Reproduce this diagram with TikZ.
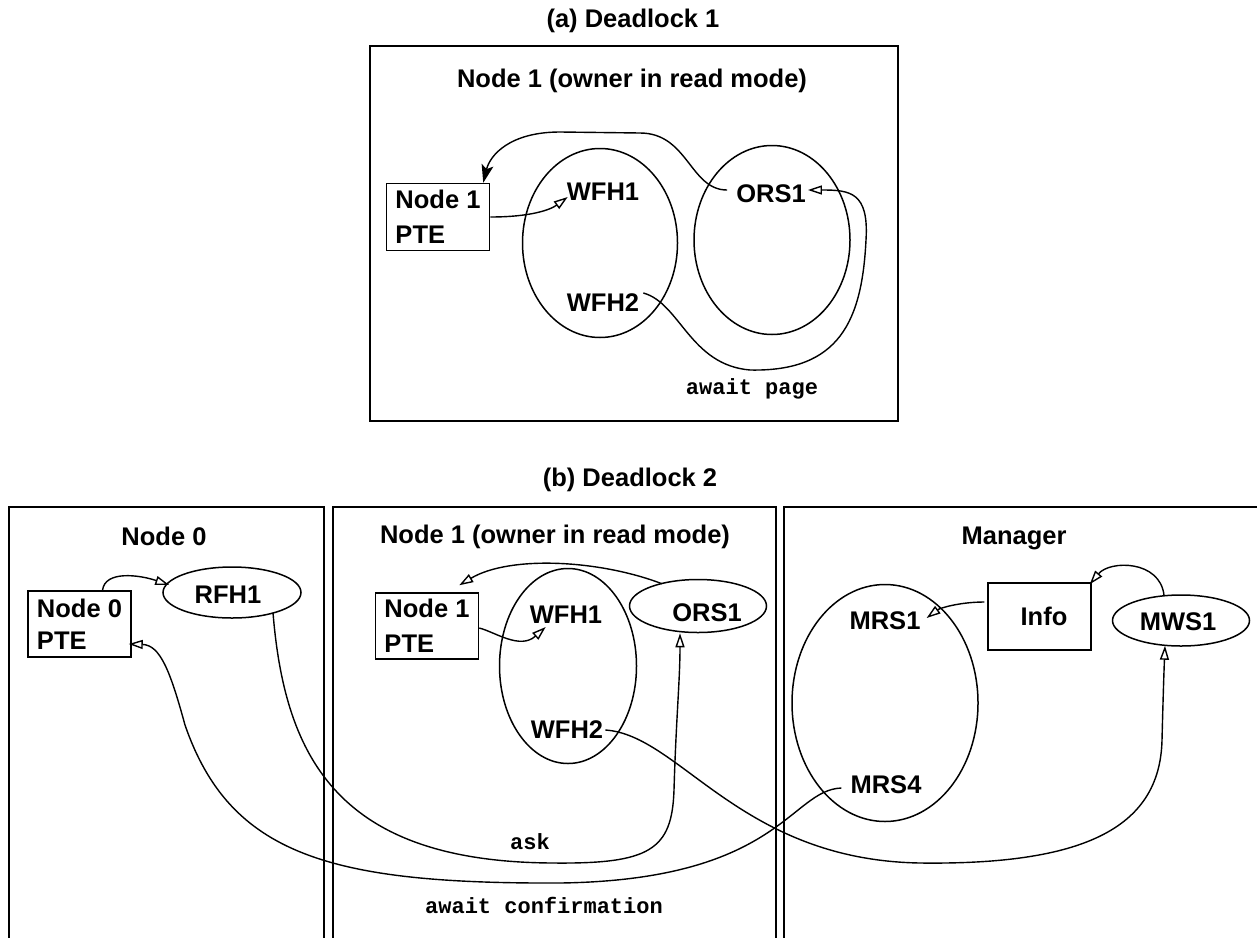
\documentclass[tikz,border=0pt]{standalone}
\usepackage{fontspec}
\newfontfamily\hvfont{Liberation Sans}
\newfontfamily\crfont{Liberation Mono}
\usetikzlibrary{arrows.meta,calc,shapes.geometric}
\tikzset{
  lbl/.style={font=\hvfont\bfseries\fontsize{25.5}{30}\selectfont, inner sep=0pt, anchor=base},
  mono/.style={font=\crfont\bfseries\fontsize{22}{26}\selectfont, inner sep=0pt, anchor=base},
  frame/.style={draw, line width=1.7pt},
  ptebox/.style={draw, line width=1.5pt, minimum width=103pt, minimum height=67pt, inner sep=0pt, align=left, font=\hvfont\bfseries\fontsize{25.5}{35}\selectfont},
  oval/.style={draw, ellipse, line width=1.5pt, inner sep=0pt},
  conn/.style={line width=1.4pt},
  oarr/.style={conn, -{Triangle[open, length=14pt, width=9pt]}},
  farr/.style={conn, -{Stealth[length=18pt, width=12pt, inset=4pt]}}
}
\begin{document}
\begin{tikzpicture}[x=1pt, y=-1pt]
\useasboundingbox (0,0) rectangle (1257,937);
\clip (0,0) rectangle (1257,937);

% ---------------- (a) Deadlock 1 ----------------
\node[lbl] (ta) at (633,27) {(a) Deadlock 1};
\draw[frame, line width=2pt] (370,46) rectangle (898,421);
\node[lbl] (tA) at (632,87) {Node 1 (owner in read mode)};
\node[ptebox] (pteA) at (438,217) {Node 1\\PTE};
\node[oval, minimum width=155pt, minimum height=189pt] (wfhA) at (600,243) {};
\node[lbl] (wfhoneA) at (603,200) {WFH1};
\node[lbl] (wfhtwoA) at (603,311) {WFH2};
\node[oval, minimum width=156pt, minimum height=189pt] (orsA) at (772,240) {};
\node[lbl] (orsoneA) at (771,202) {ORS1};
\node[mono] (awpage) at (752,394) {await page};

\draw[oarr] (pteA.east) .. controls (530,217) and (550,210) .. ($(wfhoneA.base west)+(1,-3)$);
\draw[farr] ($(orsoneA.base west)+(-9,-12)$) .. controls (690,190) and (688,133) .. (640,133) -- (560,132) .. controls (510,132) and (490,155) .. ($(pteA.north east)+(-7,0)$);
\draw[oarr] ($(wfhtwoA.base east)+(4,-18)$) .. controls (680,303) and (690,365) .. (750,370) .. controls (840,372) and (862,320) .. (866,240) .. controls (869,192) and (850,190) .. ($(orsoneA.base east)+(2,-12)$);

% ---------------- (b) Deadlock 2 ----------------
\node[lbl] (tb) at (630,486) {(b) Deadlock 2};
\draw[frame] (9,507) rectangle (324,960);
\draw[frame] (333,507) rectangle (776,960);
\draw[frame] (784,507) rectangle (1280,960);
\node[lbl] (tnode0) at (164,545) {Node 0};
\node[lbl] (tnode1) at (555,543) {Node 1 (owner in read mode)};
\node[lbl] (tman) at (1014,544) {Manager};

\node[ptebox, font=\hvfont\bfseries\fontsize{25.5}{32}\selectfont, minimum height=66pt] (pteZ) at (79.5,624) {Node 0\\PTE};
\node[oval, minimum width=138pt, minimum height=51pt] (rfh) at (232,592.5) {};
\node[lbl] (rfhone) at (228,603) {RFH1};

\node[ptebox, minimum height=66pt] (pteB) at (427,626) {Node 1\\PTE};
\node[oval, minimum width=137pt, minimum height=195pt] (wfhB) at (568,666) {};
\node[lbl] (wfhoneB) at (566,623) {WFH1};
\node[lbl] (wfhtwoB) at (567,738) {WFH2};
\node[oval, minimum width=137pt, minimum height=53pt] (orsB) at (698,606) {};
\node[lbl] (orsoneB) at (707,621) {ORS1};

\node[oval, minimum width=186pt, minimum height=237pt] (mrs) at (885,703) {};
\node[lbl] (mrsone) at (885,629) {MRS1};
\node[lbl] (mrsfour) at (886,793) {MRS4};
\node[ptebox] (info) at (1039.5,616.5) {\hspace*{9pt}Info};
\node[oval, minimum width=137pt, minimum height=51pt] (mws) at (1181,620.5) {};
\node[lbl] (mwsone) at (1178,630) {MWS1};

\node[mono] (ask) at (530,849) {ask};
\node[mono] (awconf) at (544,913) {await confirmation};

\draw[oarr] ($(pteZ.north)+(23,0)$) .. controls (105,570) and (140,575) .. ($(rfh.west)+(7,-7.5)$);
\draw[oarr] ($(rfh.south)+(41,-6)$) .. controls (285,760) and (340,862) .. (553,863) .. controls (650,864) and (672,850) .. (674,790) .. controls (676,720) and (680,680) .. ($(orsB.south)+(-18,0)$);
\draw[oarr] ($(mrsfour.base west)+(-9,-5)$) .. controls (790,790) and (780,880) .. (560,883) .. controls (330,884) and (230,855) .. (185,725) .. controls (170,670) and (160,645) .. ($(pteZ.east)+(-3,20)$);
\draw[oarr] ($(pteB.east)+(0,2)$) .. controls (495,632) and (520,650) .. ($(wfhoneB.base west)+(16,4)$);
\draw[oarr] ($(orsB.north)+(-36,5)$) .. controls (600,560) and (510,555) .. ($(pteB.north east)+(-20,-7)$);
\draw[oarr] ($(wfhtwoB.base east)+(2,-8)$) .. controls (680,735) and (740,860) .. (920,863) .. controls (1080,865) and (1160,830) .. (1162,740) .. controls (1163,700) and (1164,670) .. ($(mws.south)+(-16,-1)$);
\draw[oarr] ($(info.west)+(-3,-14.5)$) .. controls (960,602) and (940,608) .. ($(mrsone.base east)+(6,-11)$);
\draw[oarr] ($(mws.north)+(-17,1)$) .. controls (1160,560) and (1110,560) .. ($(info.north east)+(-2,2)$);
\end{tikzpicture}
\end{document}
